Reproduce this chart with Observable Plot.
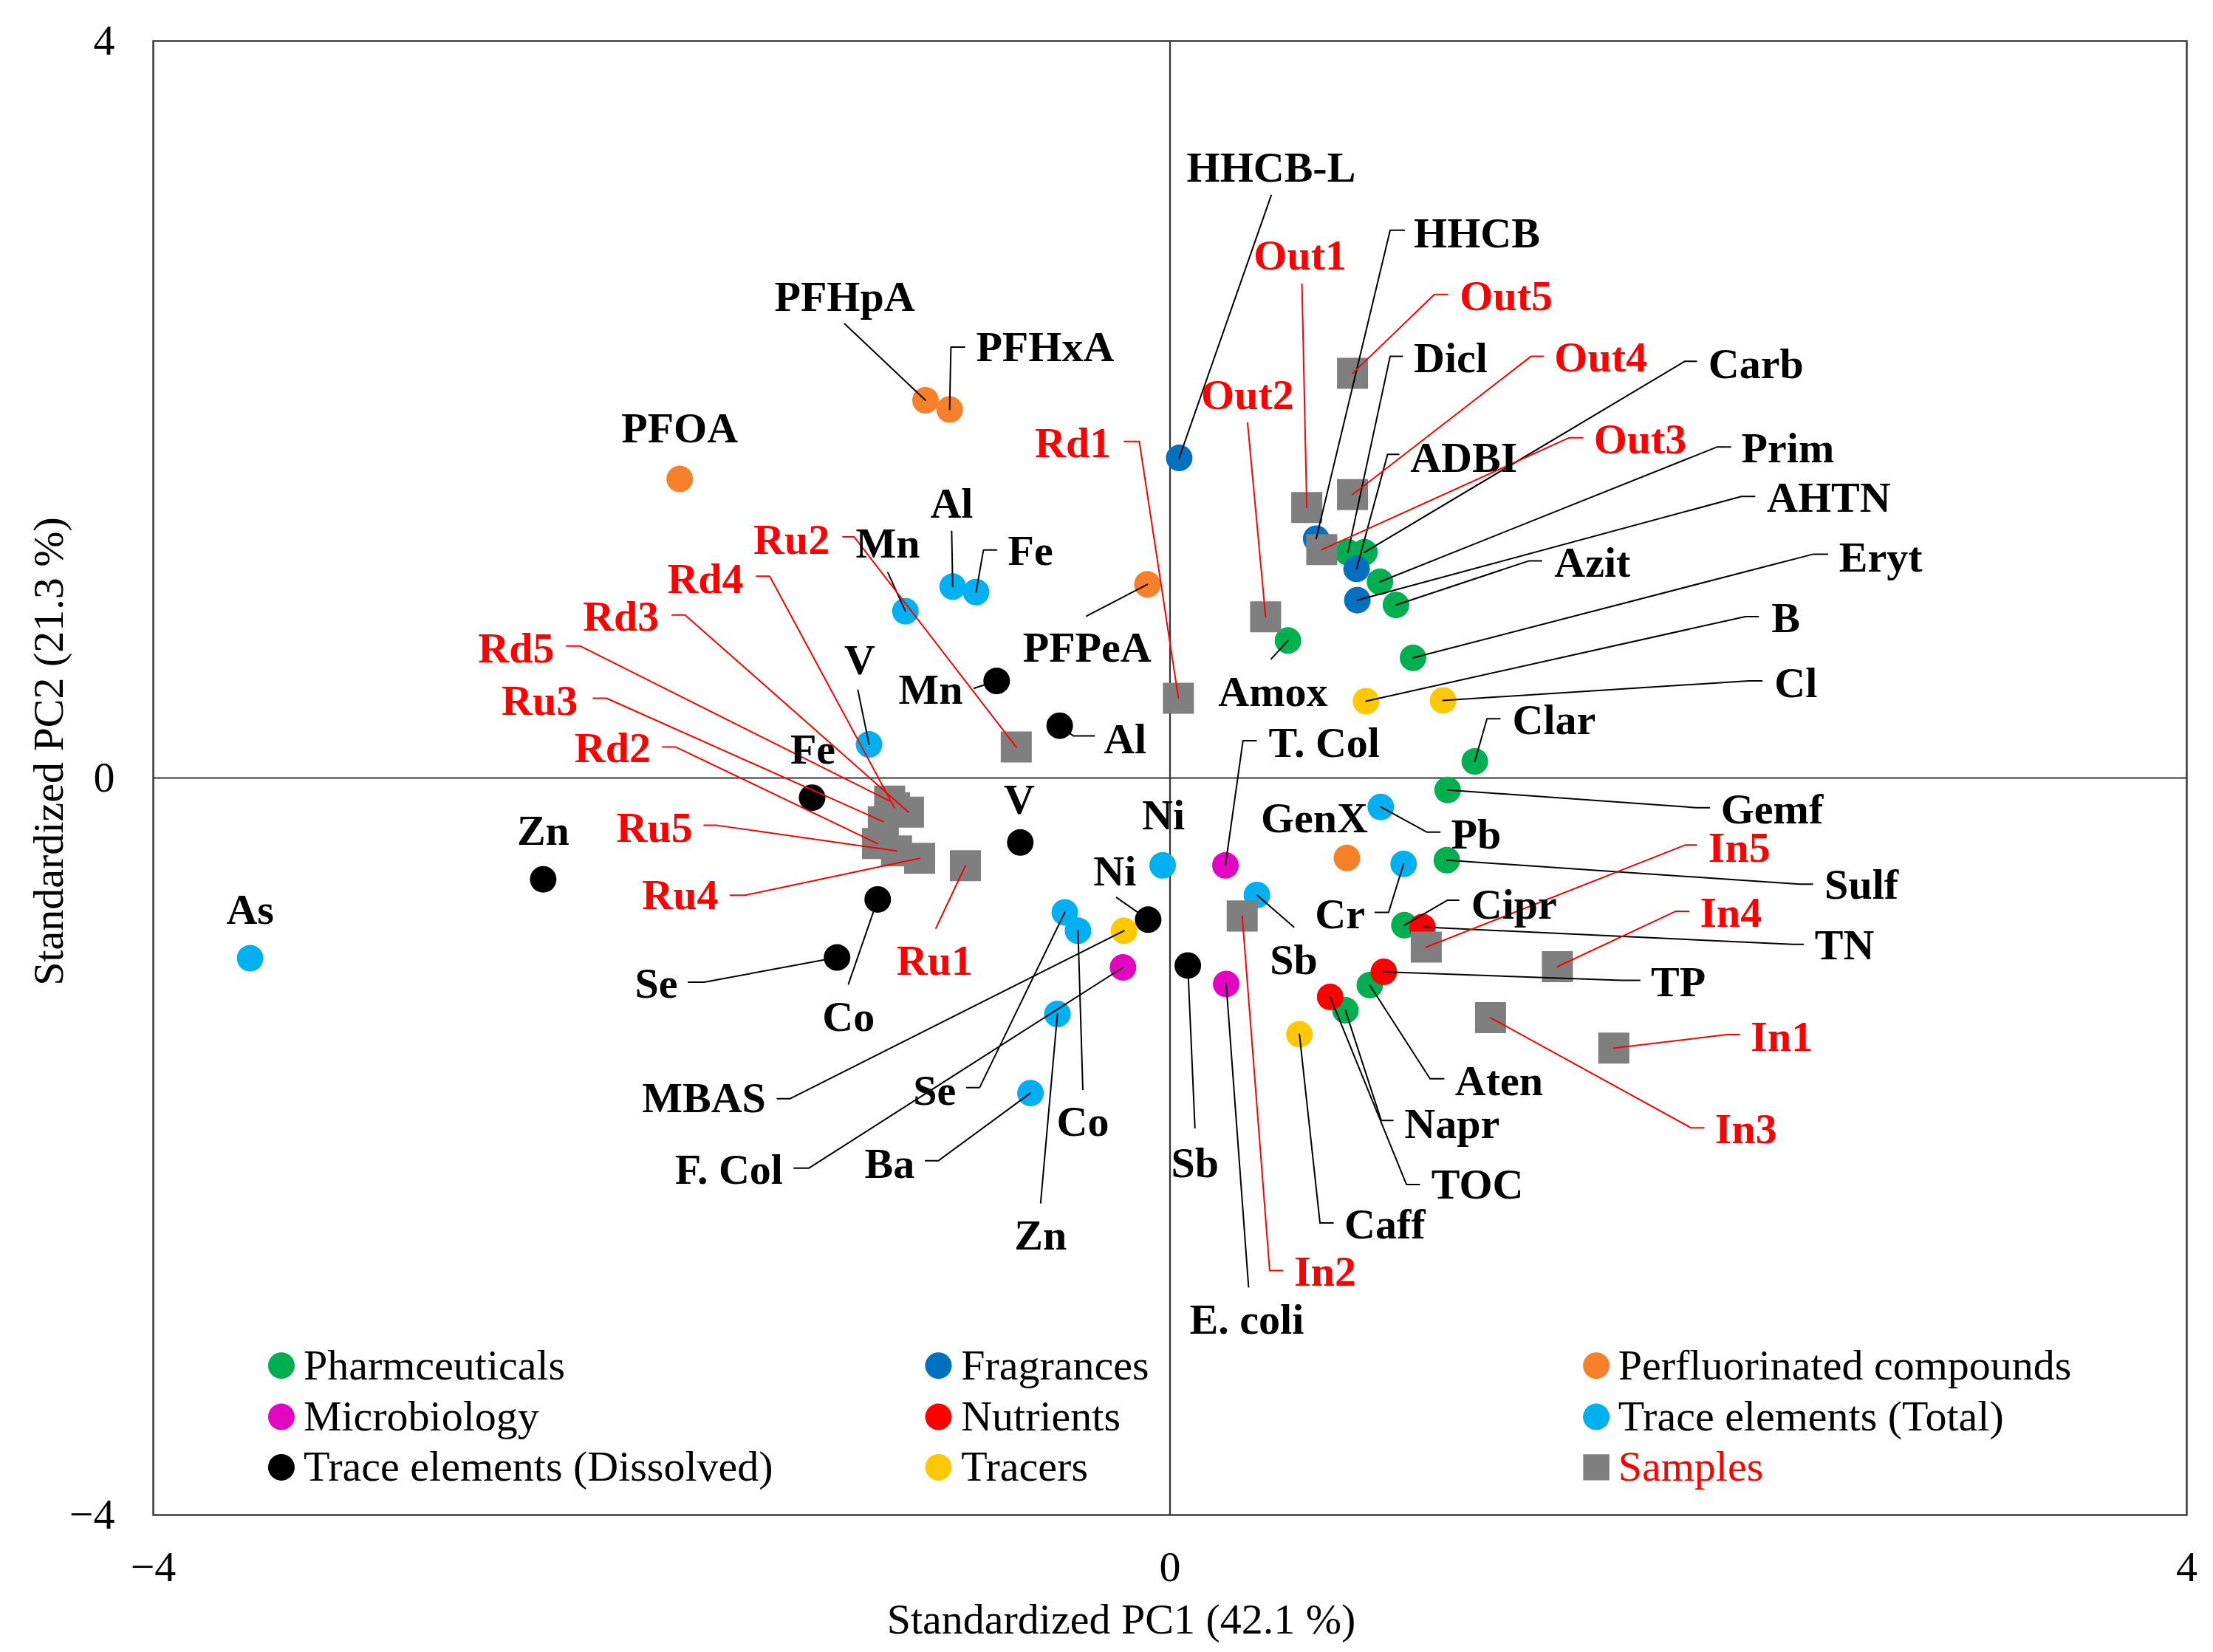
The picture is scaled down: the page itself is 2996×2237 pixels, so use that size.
<!DOCTYPE html>
<html>
<head>
<meta charset="utf-8">
<script src="https://cdn.jsdelivr.net/npm/d3@7"></script>
<script src="https://cdn.jsdelivr.net/npm/@observablehq/plot@0.6"></script>
<style>
html, body { margin: 0; padding: 0; background: #fff; overflow: hidden; }
</style>
</head>
<body>
<div id="chart"></div>
<script>
// ---- Data: [name, PC1, PC2] ----
const pharmaceuticals = [
  ["Dicl", 0.70, 1.225], ["Carb", 0.765, 1.225], ["Prim", 0.826, 1.065], ["Azit", 0.889, 0.939],
  ["Eryt", 0.956, 0.652], ["Amox", 0.464, 0.746], ["Clar", 1.199, 0.090], ["Gemf", 1.092, -0.065],
  ["Sulf", 1.089, -0.446], ["Cipr", 0.922, -0.799], ["Aten", 0.786, -1.124], ["Napr", 0.690, -1.261]
];
const fragrances = [["HHCB-L", 0.036, 1.737], ["HHCB", 0.575, 1.299], ["ADBI", 0.734, 1.135], ["AHTN", 0.737, 0.965]];
const perfluorinated = [["PFHpA", -0.962, 2.050], ["PFHxA", -0.867, 2.000], ["PFOA", -1.929, 1.623], ["PFPeA", -0.089, 1.051], ["GenX", 0.696, -0.434]];
const microbiology = [["T. Col", 0.218, -0.474], ["F. Col", -0.185, -1.028], ["E. coli", 0.221, -1.118]];
const nutrients = [["TN", 0.993, -0.809], ["TP", 0.841, -1.052], ["TOC", 0.630, -1.188]];
const traceTotal = [
  ["Al", -0.855, 1.039], ["Mn", -1.041, 0.905], ["Fe", -0.763, 1.009], ["V", -1.184, 0.182], ["As", -3.619, -0.978],
  ["Pb", 0.829, -0.157], ["Ni", -0.029, -0.474], ["Cr", 0.919, -0.466], ["Sb", 0.342, -0.635], ["Se", -0.414, -0.729],
  ["Co", -0.362, -0.829], ["Zn", -0.443, -1.281], ["Ba", -0.549, -1.710]
];
const traceDissolved = [
  ["Mn", -0.682, 0.527], ["Al", -0.434, 0.284], ["Fe", -1.408, -0.107], ["V", -0.589, -0.350], ["Zn", -2.466, -0.550],
  ["Co", -1.150, -0.659], ["Se", -1.310, -0.974], ["Ni", -0.086, -0.769], ["Sb", 0.070, -1.018]
];
const tracers = [["B", 0.771, 0.417], ["Cl", 1.074, 0.421], ["MBAS", -0.181, -0.829], ["Caff", 0.509, -1.391]];
const samples = [
  ["Out1", 0.538, 1.468], ["Out2", 0.376, 0.875], ["Out3", 0.597, 1.239], ["Out4", 0.718, 1.538], ["Out5", 0.718, 2.196],
  ["In1", 1.746, -1.466], ["In2", 0.284, -0.749], ["In3", 1.261, -1.301], ["In4", 1.524, -1.024], ["In5", 1.008, -0.918],
  ["Rd1", 0.033, 0.433], ["Rd2", -1.151, -0.356], ["Rd3", -1.029, -0.185], ["Rd4", -1.084, -0.161], ["Rd5", -1.103, -0.125],
  ["Ru1", -0.805, -0.476], ["Ru2", -0.605, 0.168], ["Ru3", -1.128, -0.237], ["Ru4", -0.985, -0.436], ["Ru5", -1.076, -0.396]
];

// ---- Label placement (data units): [labelX, labelY, anchor, elbowX, elbowY, stubX] ----
const pharmLabels = [
  [0.959, 2.276, "start", 0.866, 2.289, 0.914], [2.118, 2.246, "start", 2.026, 2.262, 2.071],
  [2.248, 1.787, "start", 2.153, 1.797, 2.205], [1.512, 1.165, "start", 1.411, 1.178, 1.462],
  [2.632, 1.194, "start", 2.528, 1.214, 2.587], [0.405, 0.467, "middle", 0.398, 0.646, null],
  [1.347, 0.313, "start", 1.247, 0.322, 1.298], [2.167, -0.171, "start", 2.071, -0.161, 2.122],
  [2.575, -0.580, "start", 2.477, -0.576, 2.528], [1.185, -0.689, "start", 1.092, -0.663, 1.136],
  [1.121, -1.646, "start", 1.023, -1.632, 1.077], [0.922, -1.879, "start", 0.831, -1.859, 0.877]
];
const fragLabels = [
  [0.398, 3.312, "middle", 0.398, 3.162, null], [0.959, 2.953, "start", 0.866, 2.973, 0.922],
  [0.945, 1.737, "start", 0.856, 1.757, 0.900], [2.348, 1.518, "start", 2.248, 1.528, 2.300]
];
const perfLabels = [
  [-1.280, 2.610, "middle", -1.280, 2.465, null], [-0.763, 2.335, "start", -0.862, 2.339, -0.808],
  [-1.929, 1.897, "middle", null, null, null], [-0.579, 0.706, "start", -0.328, 0.879, null],
  [0.568, -0.221, "middle", null, null, null]
];
const microLabels = [
  [0.388, 0.188, "start", 0.287, 0.202, 0.339], [-1.523, -2.127, "end", -1.420, -2.117, -1.479],
  [0.302, -2.941, "middle", 0.309, -2.762, null]
];
const nutrientLabels = [
  [2.536, -0.908, "start", 2.45, -0.903, 2.491], [1.892, -1.108, "start", 1.776, -1.098, 1.848],
  [1.028, -2.210, "start", 0.930, -2.206, 0.981]
];
const traceTotalLabels = [
  [-0.859, 1.488, "middle", -0.859, 1.339, null], [-1.110, 1.269, "middle", -1.110, 1.115, null],
  [-0.638, 1.229, "start", -0.734, 1.237, -0.682], [-1.221, 0.636, "middle", -1.228, 0.477, null],
  [-3.619, -0.719, "middle", null, null, null], [1.106, -0.310, "start", 1.011, -0.294, 1.062],
  [-0.026, -0.205, "middle", null, null, null], [0.767, -0.743, "end", 0.860, -0.729, 0.807],
  [0.487, -0.988, "middle", 0.487, -0.809, null], [-0.842, -1.700, "end", -0.749, -1.680, -0.800],
  [-0.343, -1.869, "middle", -0.343, -1.690, null], [-0.509, -2.484, "middle", -0.509, -2.306, null],
  [-1.005, -2.097, "end", -0.911, -2.077, -0.962]
];
const traceDissolvedLabels = [
  [-0.815, 0.477, "end", -0.771, 0.487, null], [-0.261, 0.208, "start", -0.380, 0.228, -0.298],
  [-1.405, 0.154, "middle", null, null, null], [-0.593, -0.121, "middle", null, null, null],
  [-2.466, -0.290, "middle", null, null, null], [-1.265, -1.297, "middle", -1.265, -1.118, null],
  [-1.937, -1.118, "end", -1.833, -1.108, -1.895], [-0.217, -0.510, "middle", -0.210, -0.649, null],
  [0.098, -2.091, "middle", 0.098, -1.899, null]
];
const tracerLabels = [
  [2.366, 0.866, "start", 2.263, 0.876, 2.314], [2.378, 0.513, "start", 2.277, 0.527, 2.329],
  [-1.590, -1.740, "end", -1.494, -1.740, -1.545], [0.686, -2.425, "start", 0.590, -2.415, 0.642]
];
const sampleLabels = [
  [0.512, 2.833, "middle", 0.519, 2.68, null], [0.305, 2.076, "middle", 0.305, 1.927, null],
  [1.667, 1.837, "start", 1.571, 1.847, 1.623], [1.512, 2.28, "start", 1.421, 2.289, 1.468],
  [1.140, 2.614, "start", 1.040, 2.624, 1.092], [2.285, -1.407, "start", 2.189, -1.393, 2.240],
  [0.489, -2.683, "start", 0.392, -2.673, 0.443], [2.144, -1.909, "start", 2.050, -1.899, 2.100],
  [2.085, -0.735, "start", 1.990, -0.723, 2.041], [2.118, -0.380, "start", 2.026, -0.364, 2.071],
  [-0.232, 1.817, "end", -0.121, 1.827, -0.180], [-2.043, 0.162, "end", -1.944, 0.168, -1.996],
  [-2.010, 0.875, "end", -1.908, 0.885, -1.959], [-1.678, 1.079, "end", -1.575, 1.095, -1.627],
  [-2.422, 0.700, "end", -2.320, 0.716, -2.374], [-0.926, -0.994, "middle", -0.921, -0.815, null],
  [-1.339, 1.289, "end", -1.243, 1.309, -1.287], [-2.330, 0.417, "end", -2.217, 0.433, -2.269],
  [-1.777, -0.639, "end", -1.671, -0.636, -1.730], [-1.878, -0.271, "end", -1.782, -0.257, -1.833]
];

const legendLabels = ["Pharmceuticals", "Microbiology", "Trace elements (Dissolved)",
  "Fragrances", "Nutrients", "Tracers",
  "Perfluorinated compounds", "Trace elements (Total)", "Samples"];
const axisTicks = [-4, 0, 4];
const xTitle = "Standardized PC1 (42.1 %)";
const yTitle = "Standardized PC2 (21.3 %)";

// ---- Styling ----
const groupColor = {
  "Pharmceuticals": "#00B050", "Fragrances": "#0070C0", "Perfluorinated compounds": "#F7812B",
  "Microbiology": "#E305C1", "Nutrients": "#FF0000", "Trace elements (Total)": "#00B0F0",
  "Trace elements (Dissolved)": "#000000", "Tracers": "#FFC800", "Samples": "#7F7F7F"
};
const groupList = [
  ["Pharmceuticals", pharmaceuticals, pharmLabels],
  ["Fragrances", fragrances, fragLabels],
  ["Perfluorinated compounds", perfluorinated, perfLabels],
  ["Microbiology", microbiology, microLabels],
  ["Trace elements (Total)", traceTotal, traceTotalLabels],
  ["Trace elements (Dissolved)", traceDissolved, traceDissolvedLabels],
  ["Tracers", tracers, tracerLabels],
  ["Nutrients", nutrients, nutrientLabels],
  ["Samples", samples, sampleLabels]
];

const rows = [];
for (const [g, vals, labs] of groupList) {
  vals.forEach((v, i) => {
    const l = labs[i];
    rows.push({id: g + "|" + v[0], name: v[0], group: g, x: v[1], y: v[2],
      lx: l[0], ly: l[1], anchor: l[2], ex: l[3], ey: l[4], sx: l[5], sample: g === "Samples"});
  });
}
const leaders = rows.filter(r => r.ex != null).flatMap(r => {
  const p = [{id: r.id, sample: r.sample, x: r.x, y: r.y}, {id: r.id, sample: r.sample, x: r.ex, y: r.ey}];
  if (r.sx != null) p.push({id: r.id, sample: r.sample, x: r.sx, y: r.ey});
  return p;
});

const legendColX = [-3.496, -0.911, 1.677];
const legendTextX = [-3.409, -0.822, 1.763];
const legendRowY = [-3.189, -3.467, -3.741];
const legendItems = legendLabels.map((label, i) => ({label, col: Math.floor(i / 3), row: i % 3}));

const FS = 58;
const textMarks = [];
for (const a of ["start", "middle", "end"]) {
  textMarks.push(Plot.text(rows.filter(r => r.anchor === a && !r.sample),
    {x: "lx", y: "ly", text: "name", textAnchor: a, lineAnchor: "middle", fill: "#000", fontWeight: "bold", fontSize: FS}));
  textMarks.push(Plot.text(rows.filter(r => r.anchor === a && r.sample),
    {x: "lx", y: "ly", text: "name", textAnchor: a, lineAnchor: "middle", fill: "#FF0000", fontWeight: "bold", fontSize: FS}));
}

const legendMarks = legendItems.flatMap(it => [
  it.label === "Samples"
    ? Plot.dot([it], {x: d => legendColX[d.col], y: d => legendRowY[d.row], symbol: "square", r: 20, fill: groupColor[it.label]})
    : Plot.dot([it], {x: d => legendColX[d.col], y: d => legendRowY[d.row], r: 18, fill: groupColor[it.label]}),
  Plot.text([it], {x: d => legendTextX[d.col], y: d => legendRowY[d.row], text: "label", textAnchor: "start",
    lineAnchor: "middle", fontSize: FS, fill: it.label === "Samples" ? "#FF0000" : "#000"})
]);

const chart = Plot.plot({
  width: 2996,
  height: 2237,
  marginLeft: 207,
  marginRight: 36,
  marginTop: 55,
  marginBottom: 186,
  style: {fontFamily: "'Liberation Serif', 'Times New Roman', serif", fontSize: FS + "px", background: "#fff", color: "#000"},
  x: {domain: [-4, 4], ticks: axisTicks, tickSize: 0, tickPadding: 48, label: null},
  y: {domain: [-4, 4], ticks: axisTicks, tickSize: 0, tickPadding: 52, label: null},
  marks: [
    Plot.ruleX([0], {stroke: "#333", strokeWidth: 2.2}),
    Plot.ruleY([0], {stroke: "#333", strokeWidth: 2.2}),
    Plot.frame({stroke: "#333", strokeWidth: 2.4}),
    ...groupList.filter(([g]) => g !== "Samples").map(([g]) =>
      Plot.dot(rows.filter(r => r.group === g), {x: "x", y: "y", r: 18, fill: groupColor[g]})),
    Plot.dot(rows.filter(r => r.sample), {x: "x", y: "y", symbol: "square", r: 23.7, fill: groupColor["Samples"]}),
    Plot.line(leaders.filter(d => !d.sample), {x: "x", y: "y", z: "id", stroke: "#000", strokeWidth: 2}),
    Plot.line(leaders.filter(d => d.sample), {x: "x", y: "y", z: "id", stroke: "#FF0000", strokeWidth: 2}),
    ...textMarks,
    ...legendMarks,
    Plot.text([xTitle], {text: d => d, frameAnchor: "bottom", textAnchor: "middle", lineAnchor: "middle", dy: 142, dx: -66, fontSize: FS}),
    Plot.text([yTitle], {text: d => d, frameAnchor: "left", textAnchor: "middle", lineAnchor: "middle", rotate: -90, dx: -141, dy: -36, fontSize: FS})
  ]
});
document.getElementById("chart").appendChild(chart);
</script>
</body>
</html>
